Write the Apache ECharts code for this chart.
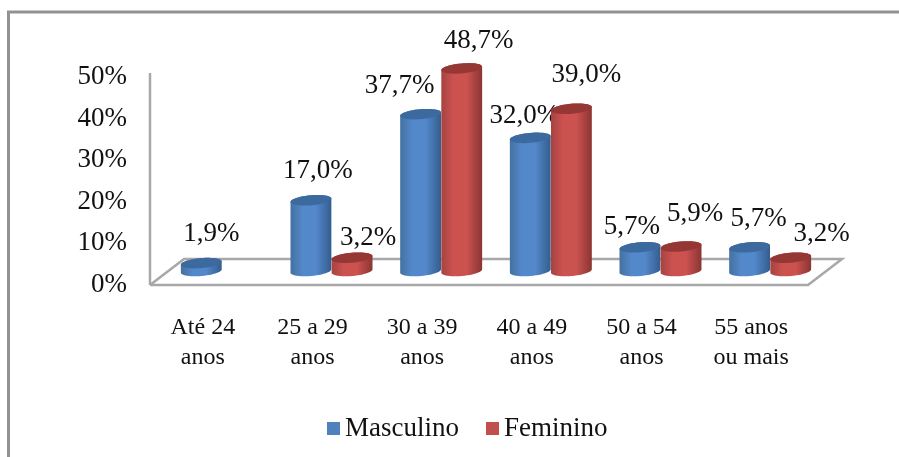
<!DOCTYPE html>
<html>
<head>
<meta charset="utf-8">
<style>html,body{margin:0;padding:0;background:#fff}#chart{width:899px;height:457px}</style>
<script src="https://cdn.jsdelivr.net/npm/echarts@6/dist/echarts.min.js"></script>
</head>
<body>
<div id="chart"></div>
<script>
const categories = ['Até 24\nanos', '25 a 29\nanos', '30 a 39\nanos', '40 a 49\nanos', '50 a 54\nanos', '55 anos\nou mais'];
const masculino = [1.9, 17.0, 37.7, 32.0, 5.7, 5.7];
const feminino = [null, 3.2, 48.7, 39.0, 5.9, 3.2];

// Hand placement of the value labels, relative to the top of each cylinder.
const masculinoLabelNudge = [[10, -29], [7, -29], [-21, -28], [-6, -22], [-8, -20], [9, -28]];
const femininoLabelNudge = [null, [16, -20], [17, -28], [15, -34], [14, -33], [31, -24]];

const serif = '"Liberation Serif", "Times New Roman", serif';
const floorDepth = { x: 34, y: 26 };
const barRadius = { x: 20.5, y: 5 };
const capTilt = -5 * Math.PI / 180;

const blue = { edgeL: '#44719f', mid: '#5388cb', edgeR: '#345d8e', cap: '#3c6a9f', key: '#4f81bd' };
const red = { edgeL: '#a54341', mid: '#cc5250', edgeR: '#8a3533', cap: '#943735', key: '#c0504d' };

// Point on a slightly tilted ellipse, as seen on a rotated 3D cylinder.
function ellipsePoint(cx, cy, t) {
  const ex = barRadius.x * Math.cos(t);
  const ey = barRadius.y * Math.sin(t);
  return [
    cx + ex * Math.cos(capTilt) - ey * Math.sin(capTilt),
    cy + ex * Math.sin(capTilt) + ey * Math.cos(capTilt)
  ];
}

function ellipseArc(cx, cy, from, to, steps) {
  const pts = [];
  for (let i = 0; i <= steps; i++) {
    pts.push(ellipsePoint(cx, cy, from + (to - from) * i / steps));
  }
  return pts;
}

function formatValue(v) {
  return v.toFixed(1).replace('.', ',') + '%';
}

function cylinderRenderer(palette, side, nudges) {
  return function (params, api) {
    const idx = api.value(0);
    const val = api.value(1);
    const band = api.size([1, 0])[0];
    const top = api.coord([idx, val]);
    const base = api.coord([idx, 0]);
    const cx = base[0] + floorDepth.x / 2 + side * band * 0.1875;
    const baseY = base[1] - floorDepth.y / 2 - 1;
    const topY = top[1] - floorDepth.y / 2 - 1;
    const body = ellipseArc(cx, topY, Math.PI, 2 * Math.PI, 24)
      .concat(ellipseArc(cx, baseY, 0, Math.PI, 24));
    const nudge = nudges[idx];
    return {
      type: 'group',
      children: [
        {
          type: 'polygon',
          shape: { points: body },
          style: {
            fill: new echarts.graphic.LinearGradient(0, 0, 1, 0, [
              { offset: 0, color: palette.edgeL },
              { offset: 0.3, color: palette.mid },
              { offset: 0.62, color: palette.mid },
              { offset: 1, color: palette.edgeR }
            ])
          }
        },
        {
          type: 'polygon',
          shape: { points: ellipseArc(cx, topY, 0, 2 * Math.PI, 48) },
          style: { fill: palette.cap }
        },
        {
          type: 'text',
          z2: 100,
          x: cx + nudge[0],
          y: topY + nudge[1],
          style: {
            text: formatValue(val),
            fontFamily: serif,
            fontSize: 27,
            fill: '#111',
            align: 'center',
            verticalAlign: 'middle'
          }
        }
      ]
    };
  };
}

// Floor of the 3D plot and the vertical wall line, anchored on the axes.
function renderFrame(params, api) {
  const origin = api.coord([0, 0]);
  const band = api.size([1, 0])[0];
  const left = origin[0] - band / 2;
  const right = left + band * categories.length;
  const y0 = origin[1];
  const yTop = api.coord([0, 50])[1] - 4;
  const lineStyle = { stroke: '#a8a8a8', lineWidth: 2.5, fill: null };
  return {
    type: 'group',
    children: [
      {
        type: 'polyline',
        shape: {
          points: [
            [left, y0],
            [right, y0],
            [right + floorDepth.x, y0 - floorDepth.y],
            [left + floorDepth.x, y0 - floorDepth.y],
            [left, y0]
          ]
        },
        style: lineStyle
      },
      {
        type: 'line',
        shape: { x1: left, y1: y0, x2: left, y2: yTop },
        style: lineStyle
      }
    ]
  };
}

const toPoints = (values) => values
  .map((v, i) => [i, v])
  .filter((p) => p[1] !== null);

const chart = echarts.init(document.getElementById('chart'), null, { renderer: 'canvas' });

chart.setOption({
  animation: false,
  backgroundColor: '#fff',
  graphic: [{
    type: 'polyline',
    silent: true,
    z: -1,
    shape: { points: [[8.5, 460], [8.5, 12], [902, 12]] },
    style: { fill: null, stroke: '#929292', lineWidth: 3 }
  }],
  grid: { left: 150, right: 91, top: 77, bottom: 172, containLabel: false },
  legend: {
    left: 322,
    top: 410,
    icon: 'rect',
    itemWidth: 13,
    itemHeight: 13,
    itemGap: 27,
    data: ['Masculino', 'Feminino'],
    textStyle: { fontFamily: serif, fontSize: 27, color: '#111', padding: [0, 0, 0, 0] }
  },
  xAxis: {
    type: 'category',
    data: categories,
    axisLine: { show: false },
    axisTick: { show: false },
    axisLabel: {
      interval: 0,
      margin: 28,
      fontFamily: serif,
      fontSize: 24,
      lineHeight: 30,
      color: '#111',
      padding: [0, 4, 0, 0]
    }
  },
  yAxis: {
    type: 'value',
    min: 0,
    max: 50,
    interval: 10,
    splitLine: { show: false },
    axisLine: { show: false },
    axisTick: { show: false },
    axisLabel: {
      margin: 23,
      fontFamily: serif,
      fontSize: 27,
      color: '#111',
      padding: [0, 0, 2, 0],
      formatter: '{value}%'
    }
  },
  series: [
    {
      type: 'custom',
      name: 'floor',
      silent: true,
      z: 1,
      data: [[0, 0]],
      encode: { x: 0, y: 1 },
      renderItem: renderFrame
    },
    {
      type: 'custom',
      name: 'Masculino',
      z: 2,
      itemStyle: { color: blue.key },
      data: toPoints(masculino),
      encode: { x: 0, y: 1 },
      renderItem: cylinderRenderer(blue, -1, masculinoLabelNudge)
    },
    {
      type: 'custom',
      name: 'Feminino',
      z: 3,
      itemStyle: { color: red.key },
      data: toPoints(feminino),
      encode: { x: 0, y: 1 },
      renderItem: cylinderRenderer(red, 1, femininoLabelNudge)
    }
  ]
});
</script>
</body>
</html>
